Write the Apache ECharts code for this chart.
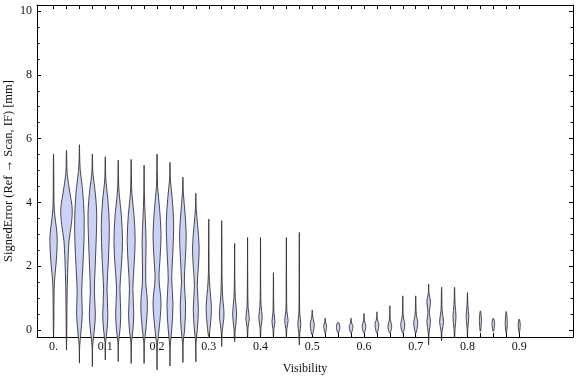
<!DOCTYPE html>
<html>
<head>
<meta charset="utf-8">
<script src="https://cdn.jsdelivr.net/npm/echarts@6/dist/echarts.min.js"></script>
<style>
  html, body { margin: 0; padding: 0; background: #fff; }
  #chart { width: 576px; height: 377px; }
</style>
</head>
<body>
<div id="chart"></div>
<script>
// violin positions (visibility bins)
const visibility = [0, 0.025, 0.05, 0.075, 0.1, 0.125, 0.15, 0.175, 0.2, 0.225, 0.25, 0.275,
  0.3, 0.325, 0.35, 0.375, 0.4, 0.425, 0.45, 0.475, 0.5, 0.525, 0.55, 0.575, 0.6, 0.625,
  0.65, 0.675, 0.7, 0.725, 0.75, 0.775, 0.8, 0.825, 0.85, 0.875, 0.9];

// density profile of each violin: [signed error, relative density], bottom to top
const profiles = [
  [[-0.2, 0], [0.3, 0.06], [1.0, 0.08], [1.5, 0.15], [2.1, 0.45], [2.8, 0.65], [3.2, 0.5], [3.7, 0.15], [4.3, 0.06], [5.0, 0.04], [5.52, 0]],
  [[-0.63, 0], [0, 0.05], [1.0, 0.1], [1.8, 0.2], [2.8, 0.45], [3.3, 0.85], [3.8, 1.0], [4.3, 0.6], [4.9, 0.12], [5.3, 0.05], [5.64, 0]],
  [[-1.04, 0], [-0.5, 0.05], [-0.1, 0.25], [0.5, 0.5], [1.2, 0.4], [2.0, 0.6], [2.8, 0.8], [3.6, 0.82], [4.4, 0.55], [5.0, 0.15], [5.4, 0.05], [5.81, 0]],
  [[-1.15, 0], [-0.5, 0.05], [0, 0.35], [0.5, 0.53], [1.2, 0.35], [2.0, 0.5], [3.0, 0.7], [3.7, 0.76], [4.4, 0.45], [4.9, 0.1], [5.52, 0]],
  [[-0.94, 0], [-0.4, 0.05], [0, 0.3], [0.5, 0.45], [1.3, 0.3], [2.2, 0.55], [3.3, 0.7], [4.1, 0.45], [4.7, 0.1], [5.43, 0]],
  [[-0.99, 0], [-0.4, 0.05], [0, 0.3], [0.5, 0.45], [1.3, 0.3], [2.0, 0.55], [2.8, 0.75], [3.6, 0.55], [4.3, 0.15], [4.8, 0.05], [5.33, 0]],
  [[-1.05, 0], [-0.4, 0.05], [0, 0.3], [0.5, 0.45], [1.3, 0.3], [2.0, 0.5], [2.8, 0.7], [3.6, 0.5], [4.3, 0.12], [4.8, 0.05], [5.35, 0]],
  [[-1.05, 0], [-0.4, 0.05], [0, 0.3], [0.8, 0.58], [1.5, 0.3], [2.2, 0.3], [2.8, 0.35], [3.5, 0.2], [4.2, 0.06], [5.17, 0]],
  [[-1.25, 0], [-0.5, 0.05], [0, 0.35], [0.85, 0.7], [1.6, 0.35], [2.3, 0.55], [3.0, 0.7], [3.8, 0.45], [4.5, 0.1], [5.0, 0.05], [5.52, 0]],
  [[-1.13, 0], [-0.5, 0.05], [0, 0.3], [0.8, 0.53], [1.6, 0.3], [2.4, 0.5], [3.4, 0.64], [4.2, 0.35], [4.7, 0.08], [5.26, 0]],
  [[-1.02, 0], [-0.4, 0.05], [0, 0.3], [0.8, 0.47], [1.5, 0.25], [2.3, 0.45], [3.0, 0.58], [3.7, 0.35], [4.3, 0.08], [4.79, 0]],
  [[-1.0, 0], [-0.4, 0.04], [0, 0.25], [0.65, 0.45], [1.4, 0.25], [2.0, 0.45], [2.6, 0.58], [3.3, 0.3], [3.8, 0.07], [4.29, 0]],
  [[-0.2, 0], [0.1, 0.25], [0.7, 0.47], [1.3, 0.2], [1.8, 0.06], [2.5, 0.04], [3.48, 0]],
  [[-0.52, 0], [-0.1, 0.06], [0.47, 0.4], [1.1, 0.15], [1.8, 0.05], [2.6, 0.04], [3.43, 0]],
  [[-0.37, 0], [0, 0.1], [0.5, 0.35], [1.0, 0.12], [1.6, 0.04], [2.72, 0]],
  [[-0.2, 0], [0.1, 0.1], [0.37, 0.3], [0.7, 0.1], [1.3, 0.04], [2.9, 0]],
  [[-0.2, 0], [0.1, 0.1], [0.4, 0.3], [0.75, 0.1], [1.3, 0.04], [2.9, 0]],
  [[-0.2, 0], [0.05, 0.1], [0.26, 0.26], [0.55, 0.08], [1.0, 0.04], [1.8, 0]],
  [[-0.2, 0], [0.05, 0.1], [0.3, 0.3], [0.6, 0.08], [1.2, 0.04], [2.9, 0]],
  [[-0.47, 0], [-0.1, 0.08], [0.2, 0.26], [0.5, 0.08], [1.2, 0.04], [3.06, 0]],
  [[-0.16, 0], [0.16, 0.35], [0.4, 0.1], [0.63, 0]],
  [[-0.1, 0], [0.11, 0.26], [0.25, 0.08], [0.37, 0]],
  [[-0.1, 0], [0.1, 0.3], [0.25, 0]],
  [[-0.1, 0], [0.1, 0.32], [0.25, 0.06], [0.37, 0]],
  [[-0.1, 0], [0.1, 0.32], [0.3, 0.08], [0.52, 0]],
  [[-0.1, 0], [0.16, 0.33], [0.35, 0.08], [0.57, 0]],
  [[-0.1, 0], [0.1, 0.32], [0.35, 0.06], [0.76, 0]],
  [[-0.1, 0], [0.16, 0.35], [0.45, 0.08], [1.07, 0]],
  [[-0.1, 0], [0.21, 0.35], [0.5, 0.1], [1.07, 0]],
  [[-0.47, 0], [-0.1, 0.06], [0.26, 0.32], [0.55, 0.12], [0.89, 0.32], [1.15, 0.06], [1.44, 0]],
  [[-0.34, 0], [-0.05, 0.08], [0.26, 0.35], [0.6, 0.1], [1.0, 0.05], [1.34, 0]],
  [[-0.25, 0], [0.05, 0.1], [0.42, 0.26], [0.8, 0.1], [1.34, 0]],
  [[-0.2, 0], [0.1, 0.08], [0.42, 0.23], [0.75, 0.08], [1.17, 0]],
  [[-0.05, 0], [0.3, 0.18], [0.6, 0]],
  [[-0.05, 0], [0.21, 0.23], [0.37, 0]],
  [[-0.1, 0], [0.21, 0.18], [0.58, 0]],
  [[-0.1, 0], [0.16, 0.18], [0.34, 0]]
];

// tick marks and labels
const xLabelValues = [0, 0.1, 0.2, 0.3, 0.4, 0.5, 0.6, 0.7, 0.8, 0.9];
const yLabelValues = [0, 2, 4, 6, 8, 10];
const yMinorValues = [0, 0.5, 1, 1.5, 2, 2.5, 3, 3.5, 4, 4.5, 5, 5.5, 6, 6.5, 7, 7.5, 8, 8.5, 9, 9.5, 10];

const X_MIN = -0.032, X_MAX = 1.004;
const Y_MIN = -0.22, Y_MAX = 10.19;
const HALF = 5.7; // px half-width of density 1
const FONT = "Liberation Serif";

const chart = echarts.init(document.getElementById("chart"), null, { renderer: "canvas" });

const renderViolin = (params, api) => {
  const i = params.dataIndex;
  const x = api.value(0);
  const prof = profiles[i];
  const right = prof.map(([y, d]) => {
    const p = api.coord([x, y]);
    return [p[0] + d * HALF, p[1]];
  });
  const left = prof.slice(1, -1).reverse().map(([y, d]) => {
    const p = api.coord([x, y]);
    return [p[0] - d * HALF, p[1]];
  });
  return {
    type: "polygon",
    shape: { points: right.concat(left), smooth: 0.35 },
    style: { fill: "#cbd2f7", stroke: "rgba(45,45,45,0.85)", lineWidth: 1 }
  };
};

const xBase = {
  type: "value", min: X_MIN, max: X_MAX,
  splitLine: { show: false },
  axisLine: { show: true, onZero: false, lineStyle: { color: "#000", width: 1 } },
  axisTick: { show: true, inside: true, length: 4, customValues: visibility, lineStyle: { color: "#000" } }
};
const yMajor = {
  type: "value", min: Y_MIN, max: Y_MAX,
  splitLine: { show: false },
  axisLine: { show: true, onZero: false, lineStyle: { color: "#000", width: 1 } },
  axisTick: { show: true, inside: true, length: 4, customValues: yLabelValues, lineStyle: { color: "#000" } }
};
const yMinor = {
  type: "value", min: Y_MIN, max: Y_MAX,
  splitLine: { show: false },
  axisLine: { show: false, onZero: false },
  axisLabel: { show: false },
  axisTick: { show: true, inside: true, length: 2.5, customValues: yMinorValues, lineStyle: { color: "#000" } }
};

chart.setOption({
  animation: false,
  backgroundColor: "#fff",
  grid: { left: 37, right: 3, top: 5, bottom: 40, containLabel: false, outerBoundsMode: "none" },
  xAxis: [
    Object.assign({}, xBase, {
      position: "bottom",
      name: "Visibility",
      nameLocation: "middle",
      nameGap: 26,
      nameMoveOverlap: false,
      nameTextStyle: { fontFamily: FONT, fontSize: 12, color: "#111" },
      axisLabel: {
        customValues: xLabelValues, margin: 4,
        fontFamily: FONT, fontSize: 12, color: "#111",
        formatter: v => (v === 0 ? "0." : v.toFixed(1))
      }
    }),
    Object.assign({}, xBase, { position: "top", axisLabel: { show: false } })
  ],
  yAxis: [
    Object.assign({}, yMajor, {
      position: "left",
      name: "SignedError (Ref \u2192 Scan, IF) [mm]",
      nameLocation: "middle",
      nameGap: 22,
      nameMoveOverlap: false,
      nameTextStyle: { fontFamily: FONT, fontSize: 12.5, color: "#111" },
      axisLabel: { customValues: yLabelValues, margin: 5, fontFamily: FONT, fontSize: 12, color: "#111" }
    }),
    Object.assign({}, yMajor, { position: "right", axisLabel: { show: false } }),
    Object.assign({}, yMinor, { position: "left" }),
    Object.assign({}, yMinor, { position: "right" })
  ],
  series: [
    {
      type: "custom",
      xAxisIndex: 0,
      yAxisIndex: 0,
      clip: false,
      renderItem: renderViolin,
      encode: { x: 0 },
      data: visibility.map(v => [v])
    }
  ]
});
</script>
</body>
</html>
